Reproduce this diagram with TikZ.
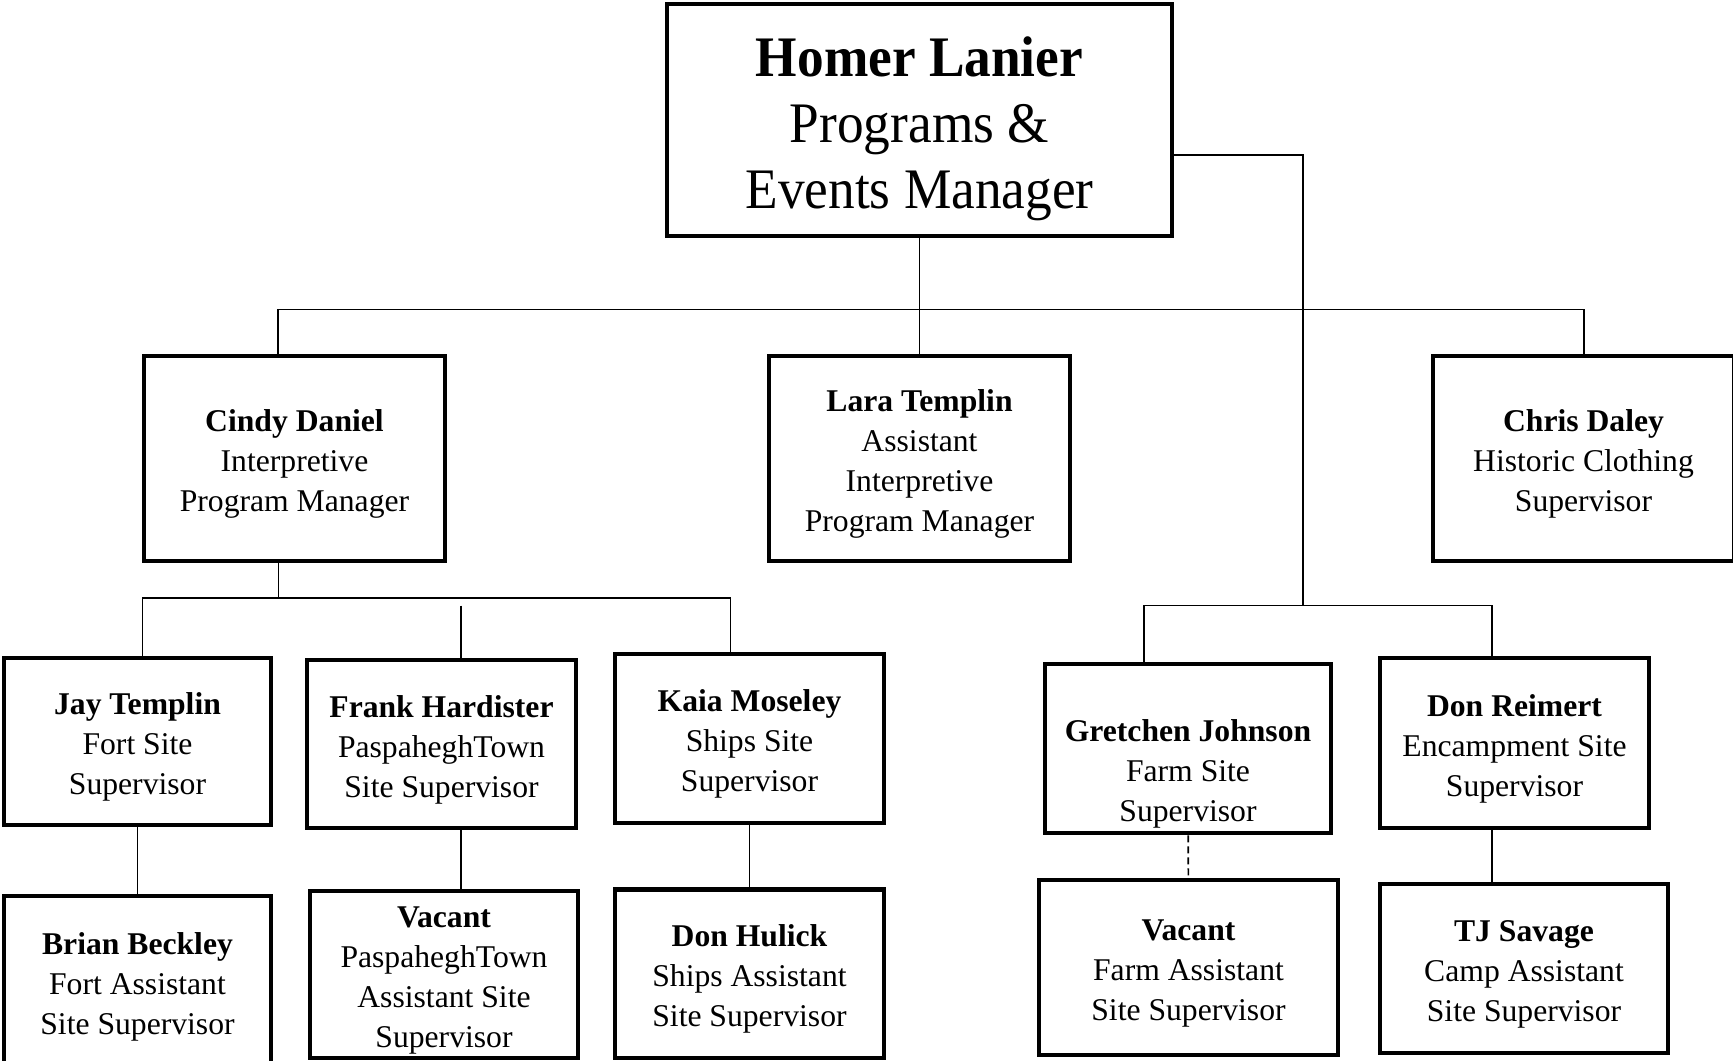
\documentclass[tikz,border=0pt]{standalone}
\usepackage{fontspec}
\setmainfont{Liberation Serif}
\newfontfamily\headfont[FakeStretch=0.93]{Liberation Serif}

\begin{document}
\begin{tikzpicture}[
  x=0.01cm, y=-0.01cm,
  block/.style={draw, rectangle, line width=1.3pt, align=center, inner sep=0pt, font=\fontsize{9}{11.4}\selectfont},
  head/.style={block, font=\headfont\fontsize{16.3}{18.8}\selectfont},
  conn/.style={line width=0.45pt}
]
\useasboundingbox (0,0) rectangle (1733,1061);

\node[head, minimum width=5.05cm, minimum height=2.32cm] (homer) at (919.5,120) {\rule{0pt}{0.58cm}\textbf{Homer Lanier}\\Programs \&\\Events Manager};

\node[block, minimum width=3.01cm, minimum height=2.05cm] (cindy) at (294.5,458.5) {\rule{0pt}{0.33cm}\textbf{Cindy Daniel}\\Interpretive\\Program Manager};
\node[block, minimum width=3.01cm, minimum height=2.05cm] (lara) at (919.5,458.5) {\rule{0pt}{0.33cm}\textbf{Lara Templin}\\Assistant\\Interpretive\\Program Manager};
\node[block, minimum width=3.01cm, minimum height=2.05cm] (chris) at (1583.5,458.5) {\rule{0pt}{0.33cm}\textbf{Chris Daley}\\Historic Clothing\\Supervisor};

\node[block, minimum width=2.67cm, minimum height=1.67cm] (jay) at (137.5,741.5) {\rule{0pt}{0.33cm}\textbf{Jay Templin}\\Fort Site\\Supervisor};
\node[block, minimum width=2.69cm, minimum height=1.68cm] (frank) at (441.5,744) {\rule{0pt}{0.33cm}\textbf{Frank Hardister}\\PaspaheghTown\\Site Supervisor};
\node[block, minimum width=2.69cm, minimum height=1.69cm] (kaia) at (749.5,738.5) {\rule{0pt}{0.33cm}\textbf{Kaia Moseley}\\Ships Site\\Supervisor};
\node[block, minimum width=2.86cm, minimum height=1.69cm] (gretchen) at (1188,748.5) {\rule{0pt}{0.72cm}\textbf{Gretchen Johnson}\\Farm Site\\Supervisor};
\node[block, minimum width=2.69cm, minimum height=1.70cm] (donr) at (1514.5,743) {\rule{0pt}{0.33cm}\textbf{Don Reimert}\\Encampment Site\\Supervisor};

\node[block, minimum width=2.67cm, minimum height=1.70cm] (brian) at (137.5,981) {\rule{0pt}{0.33cm}\textbf{Brian Beckley}\\Fort Assistant\\Site Supervisor};
\node[block, minimum width=2.68cm, minimum height=1.67cm] (vacpt) at (444,974.5) {\rule{0pt}{0.33cm}\textbf{Vacant}\\PaspaheghTown\\Assistant Site\\Supervisor};
\node[block, minimum width=2.69cm, minimum height=1.685cm] (hulick) at (749.5,973.75) {\rule{0pt}{0.33cm}\textbf{Don Hulick}\\Ships Assistant\\Site Supervisor};
\node[block, minimum width=2.99cm, minimum height=1.75cm] (vacfarm) at (1188.5,967.5) {\rule{0pt}{0.33cm}\textbf{Vacant}\\Farm Assistant\\Site Supervisor};
\node[block, minimum width=2.88cm, minimum height=1.69cm] (tj) at (1524,968.5) {\rule{0pt}{0.33cm}\textbf{TJ Savage}\\Camp Assistant\\Site Supervisor};

\coordinate (barL) at (278,309.5);
\coordinate (barR) at (1584,309.5);
\coordinate (fork) at (1303,155);
\coordinate (farmbar) at (1303,605.6);
\coordinate (cindybar) at (278.5,598);
\coordinate (franktap) at (461,605.6);
\coordinate (camptap) at (1492,605.6);

\draw[conn] (homer) -- (lara);
\draw[conn] (cindy.north -| barL) -- (barL) -- (barR) -- (barR |- chris.north);
\draw[conn] (homer.east |- fork) -- (fork) -- (farmbar);

\draw[conn] (cindy.south -| cindybar) -- (cindybar);
\draw[conn] ([xshift=0.05cm]jay.north) |- (cindybar) -| ([xshift=-0.19cm]kaia.north);
\draw[conn] (franktap) -- (franktap |- frank.north);
\draw[conn] ([xshift=-0.44cm]gretchen.north) |- (farmbar) -| (camptap |- donr.north);

\draw[conn] (jay) -- (brian);
\draw[conn] (franktap |- frank.south) -- (franktap |- vacpt.north);
\draw[conn] (kaia) -- (hulick);
\draw[conn, dash pattern=on 0.07cm off 0.04cm] (gretchen) -- (vacfarm);
\draw[conn] (camptap |- donr.south) -- (camptap |- tj.north);
\end{tikzpicture}
\end{document}
